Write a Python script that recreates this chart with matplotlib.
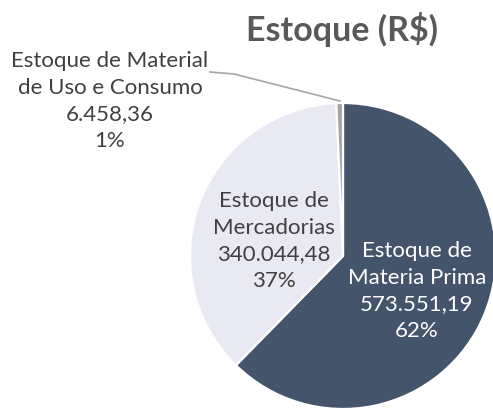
import matplotlib.pyplot as plt

# data
labels = ["Estoque de\nMateria Prima", "Estoque de\nMercadorias",
          "Estoque de Material\nde Uso e Consumo"]
valores = [573551.19, 340044.48, 6458.36]
cores = ["#44546A", "#E8E9F3", "#A5A5A5"]

plt.rcParams['font.family'] = ['Lato', 'DejaVu Sans']

W, H = 493, 414
fig = plt.figure(figsize=(W / 100, H / 100), dpi=100)
ax = fig.add_axes([0, 0, 1, 1])

cx, cy, r = 343, H - 257, 153

wedges, _ = ax.pie(valores, colors=cores, startangle=90, counterclock=False,
                   center=(cx, cy), radius=r, frame=True,
                   wedgeprops=dict(edgecolor='white', linewidth=1.6))
ax.set_xlim(0, W)
ax.set_ylim(0, H)
ax.set_aspect('equal')
ax.axis('off')

total = sum(valores)


def fmt(v):
    s = f"{v:,.2f}"
    return s.replace(",", "X").replace(".", ",").replace("X", ".")


def rotulo(i):
    pct = round(valores[i] / total * 100)
    return f"{labels[i]}\n{fmt(valores[i])}\n{pct}%"


# label positions (pixel layout)
pos = [(417, H - 291), (274, H - 241), (110, H - 101)]
cor_txt = ["white", "#404040", "#404040"]
for i in range(3):
    ax.text(pos[i][0], pos[i][1], rotulo(i), ha='center', va='center',
            fontsize=16, color=cor_txt[i], linespacing=1.4)

# leader line for the small slice
ax.plot([210, 234, 340], [H - 73, H - 75, H - 102], color='#A6A6A6', lw=1.2)

ax.text(342, H - 29, "Estoque (R$)", ha='center', va='center',
        fontsize=24.5, fontweight='bold', color='#595959')

fig.savefig("out.png", dpi=100)
